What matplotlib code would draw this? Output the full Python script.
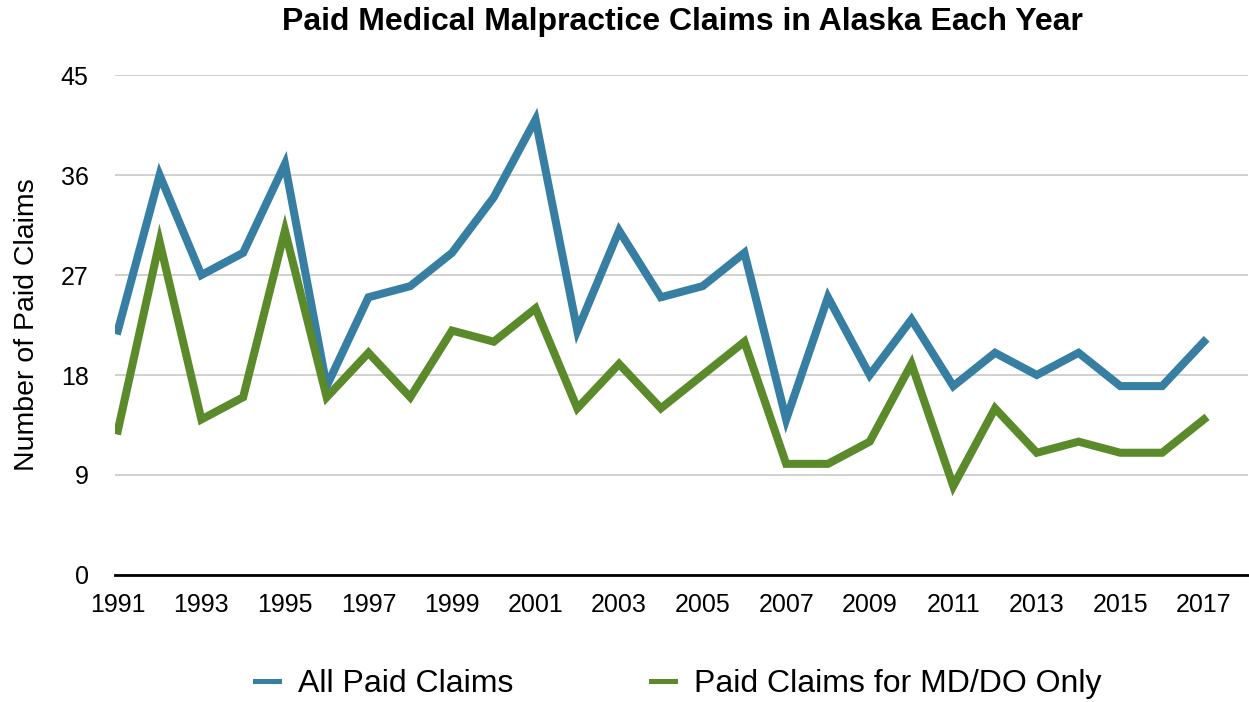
import matplotlib

matplotlib.use('Agg')

import matplotlib.pyplot as plt
from matplotlib.lines import Line2D

plt.rcParams['font.family'] = ['Liberation Sans', 'DejaVu Sans']

years = list(range(1991, 2018))
all_claims = [22, 36, 27, 29, 37, 17, 25, 26, 29, 34, 41, 22, 31, 25, 26, 29,
              14, 25, 18, 23, 17, 20, 18, 20, 17, 17, 21]
md_do_claims = [13, 30, 14, 16, 31, 16, 20, 16, 22, 21, 24, 15, 19, 15, 18, 21,
                10, 10, 12, 19, 8, 15, 11, 12, 11, 11, 14]
series_names = ['All Paid Claims', 'Paid Claims for MD/DO Only']
series_colors = ['#377ea3', '#5a8a29']
y_ticks = [0, 9, 18, 27, 36, 45]
x_ticks = list(range(1991, 2018, 2))

fig = plt.figure(figsize=(12.49, 7.02), dpi=100)
ax = fig.add_axes([0.092, 0.181, 0.907, 0.712])

for vals, name, col in zip([all_claims, md_do_claims], series_names, series_colors):
    ax.plot(years, vals, color=col, lw=5.8, solid_joinstyle='miter',
            label=name, zorder=3)

ax.set_xlim(1990.93, 2018.05)
ax.set_ylim(0, 45)
ax.set_yticks(y_ticks)
ax.set_xticks(x_ticks)
ax.tick_params(axis='both', length=0, labelsize=18)
ax.tick_params(axis='y', pad=19)
ax.tick_params(axis='x', pad=13)

ax.grid(axis='y', color='#c8c8c8', lw=1.2, zorder=0)
for side in ['top', 'right', 'left']:
    ax.spines[side].set_visible(False)
ax.spines['bottom'].set_linewidth(2)
ax.spines['bottom'].set_zorder(4)

ax.set_ylabel('Number of Paid Claims', fontsize=20.5, labelpad=15)
fig.suptitle('Paid Medical Malpractice Claims in Alaska Each Year',
             x=0.546, y=0.99, fontsize=23, fontweight='bold')

# thinner handles than the plotted lines, like the original
handles = [Line2D([], [], color=c, lw=3.6) for c in series_colors]
fig.legend(handles, series_names, loc='center', bbox_to_anchor=(0.543, 0.025),
           ncol=2, frameon=False, fontsize=23, handlelength=0.75,
           handletextpad=0.6, columnspacing=4.3)

fig.savefig('out.png', dpi=100)
